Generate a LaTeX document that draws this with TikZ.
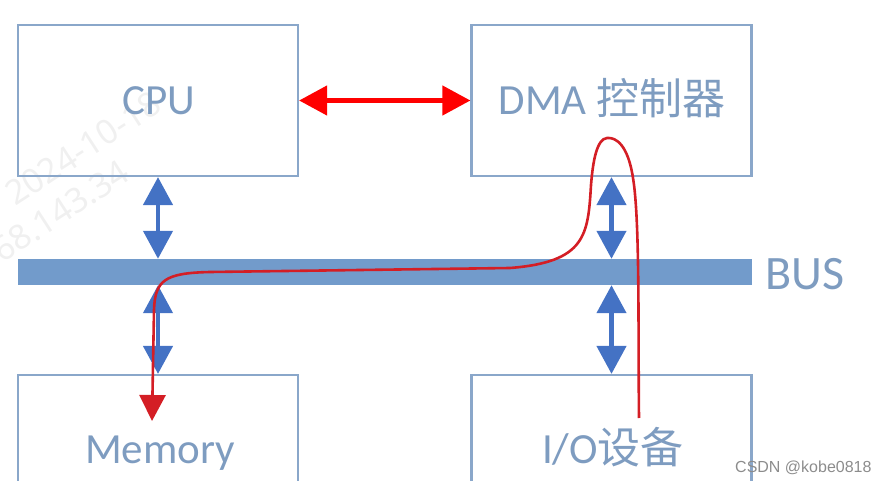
\documentclass[tikz,border=0pt]{standalone}
\usepackage{fontspec}
\setmainfont{Carlito}
\newfontfamily\cjk{Noto Sans CJK SC}
\newfontfamily\wmfont{Noto Sans}
\newfontfamily\csdnfont{Liberation Sans}
\usetikzlibrary{arrows.meta}
\definecolor{boxblue}{HTML}{8AA7CA}
\definecolor{txtblue}{HTML}{7E9CC0}
\definecolor{busblue}{HTML}{729BCB}
\definecolor{arrblue}{HTML}{4472C4}
\definecolor{redline}{HTML}{FF0000}
\definecolor{curvered}{HTML}{D41E25}
\begin{document}
\begin{tikzpicture}[x=1pt,y=-1pt,
  box/.style={draw=boxblue,line width=2.2pt,minimum width=280pt,minimum height=151pt,inner sep=0pt},
  lbl/.style={text=txtblue,font=\fontsize{43}{43}\selectfont,anchor=base,inner sep=0pt},
  barrow/.style={arrblue,line width=4.5pt,{Triangle[length=28pt,width=29pt]}-{Triangle[length=28pt,width=29pt]}},
  rarrow/.style={redline,line width=4.5pt,{Triangle[length=28pt,width=29pt]}-{Triangle[length=28pt,width=29pt]}},
  rcurve/.style={curvered,line width=2.6pt,-{Triangle[length=26pt,width=26pt]}},
  wm/.style={text=black!6,font=\wmfont\bfseries\fontsize{34}{34}\selectfont,rotate=33,anchor=base west,inner sep=0pt}]
\useasboundingbox (0,0) rectangle (877,481);
\clip (0,0) rectangle (877,481);
% watermark
\node[wm] (wm1) at (15,207) {2024-10-18};
\node[wm] (wm2) at (-14,274) {168.143.34};
% boxes
\node[box] (cpu) at (158,100.5) {};
\node[box] (dma) at (611.5,100.5) {};
\node[box] (mem) at (158,450.5) {};
\node[box] (io) at (611.5,450.5) {};
% bus
\node[fill=busblue,minimum width=734pt,minimum height=26pt,inner sep=0pt] (bus) at (385,272) {};
\node[text=txtblue,font=\fontsize{48}{48}\selectfont,anchor=base west,inner sep=0pt] (buslbl) at (765,289) {BUS};
% blue arrows
\draw[barrow] (cpu.south) -- (cpu.south |- bus.north);
\draw[barrow] (dma.south) -- (dma.south |- bus.north);
\draw[barrow] (bus.south -| mem.north) -- (mem.north);
\draw[barrow] (bus.south -| io.north) -- (io.north);
% red arrow
\draw[rarrow] (cpu.east) -- (dma.west);
% red curve
\coordinate (rs) at (639,418);
\coordinate (re) at (152,421);
\draw[rcurve] (rs) .. controls (638,330) and (640,220) .. (633,178)
  .. controls (628,145) and (616,137) .. (607,138)
  .. controls (597,139) and (593,160) .. (591,185)
  .. controls (588,235) and (586,262) .. (510,268)
  -- (210,272)
  .. controls (165,273) and (155,280) .. (154,310)
  -- (re);
% labels
\node[lbl] (cpulbl) at (159,115) {CPU};
\node[lbl] (dmalbl) at (612,115) {DMA {\cjk 控制器}};
\node[lbl] (memlbl) at (160,463) {Memory};
\node[lbl] (iolbl) at (613,463) {I/O{\cjk 设备}};
\node[anchor=base west,inner sep=0pt,text=black!45,font=\csdnfont\fontsize{16}{16}\selectfont] (csdn) at (735,472) {CSDN @kobe0818};
\end{tikzpicture}
\end{document}
